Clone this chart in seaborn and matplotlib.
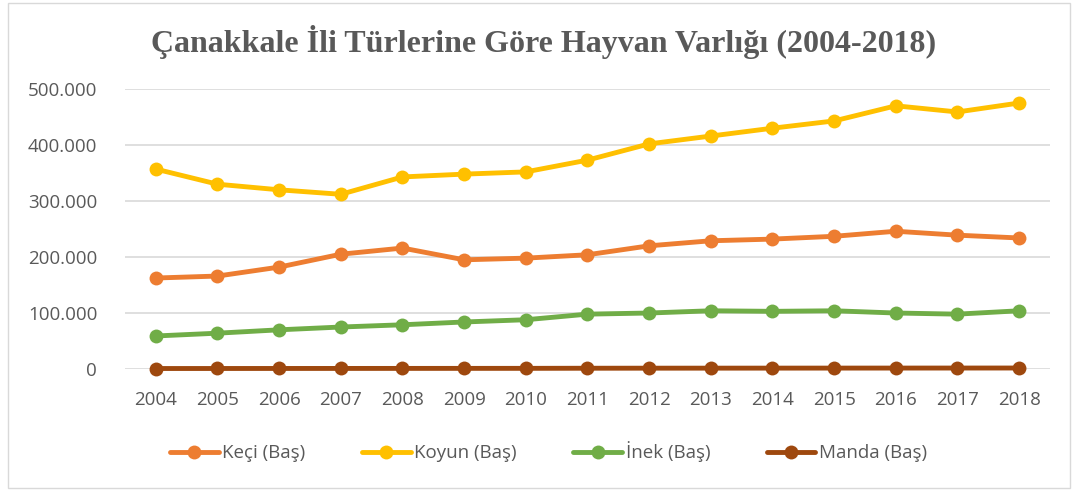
import matplotlib
matplotlib.use('Agg')
import matplotlib.pyplot as plt
import matplotlib.ticker as mticker
import seaborn as sns
import pandas as pd

years = list(range(2004, 2019))
keci = [162500, 166000, 182000, 205000, 216000, 195000, 198000, 204000,
        220000, 229000, 232000, 237000, 246000, 239000, 234000]
koyun = [357000, 330000, 320000, 312000, 343000, 348000, 352000, 373000,
         402000, 416000, 430000, 443000, 470000, 459000, 475000]
inek = [59000, 64000, 70000, 75000, 79000, 84000, 88000, 98000,
        100000, 104000, 103000, 104000, 100000, 98000, 104000]
manda = [900, 950, 1000, 1050, 1100, 1150, 1200, 1400,
         1500, 1550, 1600, 1650, 1700, 1750, 1800]

series = ['Keçi (Baş)', 'Koyun (Baş)', 'İnek (Baş)', 'Manda (Baş)']
colors = ['#ED7D31', '#FFC000', '#70AD47', '#9E480E']

df = pd.concat([
    pd.DataFrame({'Yıl': years, 'Değer': vals, 'Tür': name})
    for name, vals in zip(series, [keci, koyun, inek, manda])
])

sns.set_style('white')
plt.rcParams['font.family'] = ['Open Sans', 'DejaVu Sans']

fig = plt.figure(figsize=(10.73, 4.95), dpi=100)
ax = fig.add_axes([0.1165, 0.2545, 0.862, 0.5657])

sns.lineplot(data=df, x='Yıl', y='Değer', hue='Tür', palette=colors,
             marker='o', markersize=10, markeredgewidth=0, linewidth=3.5,
             ax=ax, legend=True, clip_on=False, zorder=3)

ax.set_xlim(2003.5, 2018.5)
ax.set_ylim(0, 500000)
ax.set_yticks(range(0, 500001, 100000))
ax.yaxis.set_major_formatter(mticker.FuncFormatter(
    lambda v, p: '0' if v == 0 else f'{int(v):,}'.replace(',', '.')))
ax.set_xticks(years)
ax.grid(axis='y', color='#D9D9D9', linewidth=1.2)
ax.set_axisbelow(True)
for s in ax.spines.values():
    s.set_visible(False)
ax.tick_params(axis='both', length=0, labelsize=13.5, labelcolor='#595959')
ax.tick_params(axis='y', pad=20)
ax.tick_params(axis='x', pad=16)
ax.set_xlabel('')
ax.set_ylabel('')

handles, labels = ax.get_legend_handles_labels()
ax.legend(handles, labels, loc='center', bbox_to_anchor=(0.458, -0.295), ncol=4,
          frameon=False, fontsize=13.5, labelcolor='#595959', handlelength=2.6,
          columnspacing=3.0, handletextpad=0.2)

fig.suptitle('Çanakkale İli Türlerine Göre Hayvan Varlığı (2004-2018)',
             x=0.507, y=0.95, fontsize=23, fontweight='bold',
             family='Liberation Serif', color='#595959')

fig.patches.append(plt.Rectangle((0.007, 0.014), 0.99, 0.98, transform=fig.transFigure,
                                 fill=False, edgecolor='#D9D9D9', linewidth=1))

fig.savefig('out.png', dpi=100)
